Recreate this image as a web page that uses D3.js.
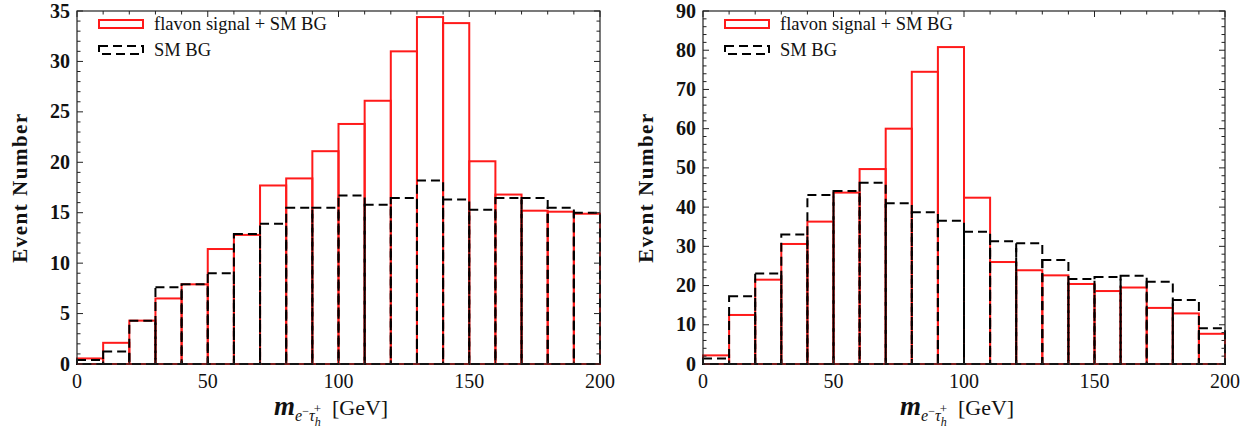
<!DOCTYPE html>
<html>
<head>
<meta charset="utf-8">
<script src="https://cdn.jsdelivr.net/npm/d3@7"></script>
<style>
  html, body { margin: 0; padding: 0; background: #fff; }
  svg { display: block; }
</style>
</head>
<body>
<div id="chart"></div>
<script>
// Histogram bins (lower edges, GeV) and bin width
const binStarts = [0, 10, 20, 30, 40, 50, 60, 70, 80, 90, 100, 110, 120, 130, 140, 150, 160, 170, 180, 190];
const binWidth = 10;

// left panel
const leftSignal = [0.55, 2.1, 4.3, 6.5, 7.9, 11.4, 12.8, 17.7, 18.4, 21.1, 23.8, 26.1, 31.0, 34.4, 33.8, 20.1, 16.8, 15.2, 15.1, 14.9];
const leftBG = [0.4, 1.25, 4.3, 7.6, 7.9, 9.0, 12.9, 13.9, 15.5, 15.5, 16.7, 15.8, 16.45, 18.2, 16.3, 15.3, 16.45, 16.45, 15.5, 15.0];
const leftYTicks = [0, 5, 10, 15, 20, 25, 30, 35];

// right panel
const rightSignal = [2.2, 12.5, 21.5, 30.6, 36.3, 43.7, 49.7, 60.0, 74.5, 80.8, 42.4, 26.0, 23.9, 22.6, 20.4, 18.6, 19.5, 14.3, 12.9, 7.7];
const rightBG = [1.4, 17.3, 23.1, 33.0, 43.1, 44.1, 46.2, 41.0, 38.7, 36.5, 33.7, 31.3, 30.8, 26.5, 21.7, 22.2, 22.5, 21.0, 16.3, 9.1];
const rightYTicks = [0, 10, 20, 30, 40, 50, 60, 70, 80, 90];

const xTicks = [0, 50, 100, 150, 200];
const legendLabels = ["flavon signal + SM BG", "SM BG"];

const FONT = "'Liberation Serif', 'Times New Roman', 'DejaVu Serif', serif";
const W = 1260, H = 436;
const svg = d3.select("#chart").append("svg").attr("width", W).attr("height", H)
  .attr("font-family", FONT).attr("fill", "#111");

function panel(cfg) {
  const { x0, x1, y0, y1, yMax, yMinor, yTicks, signal, bg } = cfg;
  const x = d3.scaleLinear().domain([0, 200]).range([x0, x1]);
  const y = d3.scaleLinear().domain([0, yMax]).range([y1, y0]);
  const g = svg.append("g");

  // bars: signal (solid red) then background (dashed black) on top
  g.append("g").selectAll("rect").data(binStarts).join("rect")
    .attr("x", d => x(d)).attr("width", d => x(d + binWidth) - x(d))
    .attr("y", (d, i) => y(signal[i])).attr("height", (d, i) => y(0) - y(signal[i]))
    .attr("fill", "none").attr("stroke", "#ff1a1a").attr("stroke-width", 2);
  g.append("g").selectAll("rect").data(binStarts).join("rect")
    .attr("x", d => x(d)).attr("width", d => x(d + binWidth) - x(d))
    .attr("y", (d, i) => y(bg[i])).attr("height", (d, i) => y(0) - y(bg[i]))
    .attr("fill", "none").attr("stroke", "#000").attr("stroke-width", 2)
    .attr("stroke-dasharray", "9,5");

  // frame
  g.append("rect").attr("x", x0).attr("y", y0).attr("width", x1 - x0).attr("height", y1 - y0)
    .attr("fill", "none").attr("stroke", "#222").attr("stroke-width", 1.2);

  // ticks, inward on all four sides
  const tk = g.append("g").attr("stroke", "#222").attr("stroke-width", 1);
  d3.range(0, 201, 10).forEach(v => {
    const len = v % 50 === 0 ? 6 : 3.5;
    tk.append("line").attr("x1", x(v)).attr("x2", x(v)).attr("y1", y1).attr("y2", y1 - len);
    tk.append("line").attr("x1", x(v)).attr("x2", x(v)).attr("y1", y0).attr("y2", y0 + len);
  });
  d3.range(0, yMax + 0.001, yMinor).forEach(v => {
    const major = yTicks.some(t => Math.abs(t - v) < 1e-6);
    const len = major ? 6 : 3.5;
    tk.append("line").attr("x1", x0).attr("x2", x0 + len).attr("y1", y(v)).attr("y2", y(v));
    tk.append("line").attr("x1", x1).attr("x2", x1 - len).attr("y1", y(v)).attr("y2", y(v));
  });

  // tick labels
  g.append("g").selectAll("text").data(yTicks).join("text")
    .attr("x", x0 - 7).attr("y", d => y(d) + 6.5)
    .attr("text-anchor", "end").attr("font-size", 20).attr("font-weight", "bold")
    .text(d => d);
  g.append("g").selectAll("text").data(xTicks).join("text")
    .attr("x", d => x(d)).attr("y", y1 + 24)
    .attr("text-anchor", "middle").attr("font-size", 20)
    .text(d => d);

  // axis titles
  g.append("text")
    .attr("transform", `translate(${x0 - 50},${(y0 + y1) / 2}) rotate(-90)`)
    .attr("text-anchor", "middle").attr("font-size", 21).attr("font-weight", "bold")
    .attr("letter-spacing", 1.5)
    .text("Event Number");

  const xl = g.append("text").attr("x", x0 + 197).attr("y", y1 + 51)
    .attr("font-size", 22);
  xl.append("tspan").attr("font-style", "italic").attr("font-weight", "bold").attr("font-size", 27).text("m");
  xl.append("tspan").attr("font-style", "italic").attr("font-size", 16).attr("dy", 6).text("e");
  xl.append("tspan").attr("font-size", 12).attr("dy", -6).text("\u2212");
  xl.append("tspan").attr("font-style", "italic").attr("font-size", 16).attr("dy", 6).text("\u03c4");
  xl.append("tspan").attr("font-style", "italic").attr("font-size", 12).attr("dy", 5).text("h");
  xl.append("tspan").attr("font-size", 13).attr("dx", -7).attr("dy", -13).text("+");
  xl.append("tspan").attr("font-size", 22).attr("dy", 2).text("\u2002[GeV]");

  // legend
  const lg = g.append("g");
  lg.append("rect").attr("x", x0 + 22).attr("y", 20).attr("width", 44).attr("height", 8)
    .attr("fill", "none").attr("stroke", "#ff1a1a").attr("stroke-width", 2);
  lg.append("rect").attr("x", x0 + 22).attr("y", 46).attr("width", 44).attr("height", 8)
    .attr("fill", "none").attr("stroke", "#000").attr("stroke-width", 2)
    .attr("stroke-dasharray", "9,5");
  lg.selectAll("text").data(legendLabels).join("text")
    .attr("x", x0 + 77).attr("y", (d, i) => 30 + i * 26)
    .attr("font-size", 18.5).text(d => d);
}

panel({ x0: 77, x1: 600, y0: 11, y1: 364, yMax: 35, yMinor: 1, yTicks: leftYTicks, signal: leftSignal, bg: leftBG });
panel({ x0: 703, x1: 1225, y0: 11, y1: 364, yMax: 90, yMinor: 2, yTicks: rightYTicks, signal: rightSignal, bg: rightBG });
</script>
</body>
</html>
